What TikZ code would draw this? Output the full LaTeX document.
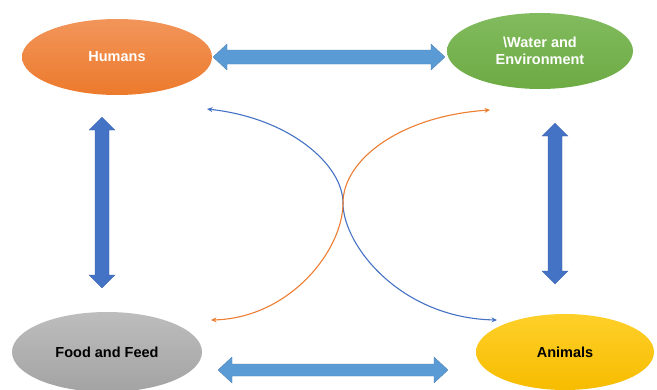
\documentclass[tikz,border=0pt]{standalone}
\usepackage{fontspec}
\setmainfont{Liberation Sans}
\usetikzlibrary{shapes.geometric,arrows.meta,calc}
\definecolor{orA}{HTML}{EC7A2C}
\definecolor{orB}{HTML}{F2955A}
\definecolor{grA}{HTML}{6DAB44}
\definecolor{grB}{HTML}{82BB5E}
\definecolor{gyA}{HTML}{A3A3A3}
\definecolor{gyB}{HTML}{BDBDBD}
\definecolor{yeA}{HTML}{F6BC00}
\definecolor{yeB}{HTML}{FFD02A}
\definecolor{lblue}{HTML}{5B9BD5}
\definecolor{dblue}{HTML}{4472C4}
\definecolor{cblue}{HTML}{4472C4}
\definecolor{corange}{HTML}{ED7D31}
\tikzset{
  blob/.style={ellipse, minimum width=#1, inner sep=0pt, font=\fontsize{14.5}{17}\selectfont\bfseries, align=center},
  blockh/.style={fill=lblue, draw=lblue!80!black, line width=0.3pt},
  blockv/.style={fill=dblue, draw=dblue!85!black, line width=0.3pt},
  curve/.style={line width=1.1pt, {Stealth[length=5.5pt,width=5pt]}-{Stealth[length=5.5pt,width=5pt]}},
}
\begin{document}
\begin{tikzpicture}[x=1pt,y=-1pt]
\useasboundingbox (0,0) rectangle (657,389);
% ellipses
\node[blob=190pt, minimum height=76pt, top color=orB, bottom color=orA, text=white] (hum) at (117,57) {Humans};
\node[blob=186pt, minimum height=76pt, top color=grB, bottom color=grA, text=white] (wat) at (540,51) {\textbackslash Water and\\Environment};
\node[blob=190pt, minimum height=80pt, top color=gyB, bottom color=gyA, text=black] (food) at (107,352) {Food and Feed};
\node[blob=178pt, minimum height=76pt, top color=yeB, bottom color=yeA, text=black] (ani) at (565,352) {Animals};
% top horizontal block arrow
\coordinate (t1) at (213,57);
\coordinate (t2) at (445,57);
\draw[blockh] (t1) -- ++(14,-13) -- ++(0,6) -- ($(t2)+(-14,-7)$) -- ++(0,-6) -- (t2) -- ++(-14,13) -- ++(0,-6) -- ($(t1)+(14,7)$) -- ++(0,6) -- cycle;
% bottom horizontal block arrow
\coordinate (b1) at (218,370);
\coordinate (b2) at (448,370);
\draw[blockh] (b1) -- ++(14,-13) -- ++(0,7) -- ($(b2)+(-14,-6)$) -- ++(0,-7) -- (b2) -- ++(-14,13) -- ++(0,-7) -- ($(b1)+(14,6)$) -- ++(0,7) -- cycle;
% left vertical block arrow
\coordinate (l1) at (102,117);
\coordinate (l2) at (102,288);
\draw[blockv] (l1) -- ++(13,13) -- ++(-6,0) -- ($(l2)+(7,-13)$) -- ++(6,0) -- (l2) -- ++(-13,-13) -- ++(6,0) -- ($(l1)+(-7,13)$) -- ++(-6,0) -- cycle;
% right vertical block arrow
\coordinate (r1) at (555,123);
\coordinate (r2) at (555,284);
\draw[blockv] (r1) -- ++(13,13) -- ++(-6,0) -- ($(r2)+(7,-13)$) -- ++(6,0) -- (r2) -- ++(-13,-13) -- ++(6,0) -- ($(r1)+(-7,13)$) -- ++(-6,0) -- cycle;
% crossing curves
\coordinate (x) at (343,203);
\coordinate (bs) at (207,109);
\coordinate (be) at (497,320);
\coordinate (os) at (490,110);
\coordinate (oe) at (211,320);
\draw[curve, draw=cblue]
  (bs) .. controls (290,118) and (343,165) .. (x) .. controls (343,245) and (400,318) .. (be);
\draw[curve, draw=corange]
  (os) .. controls (400,116) and (343,160) .. (x) .. controls (343,250) and (290,318) .. (oe);
\end{tikzpicture}
\end{document}
